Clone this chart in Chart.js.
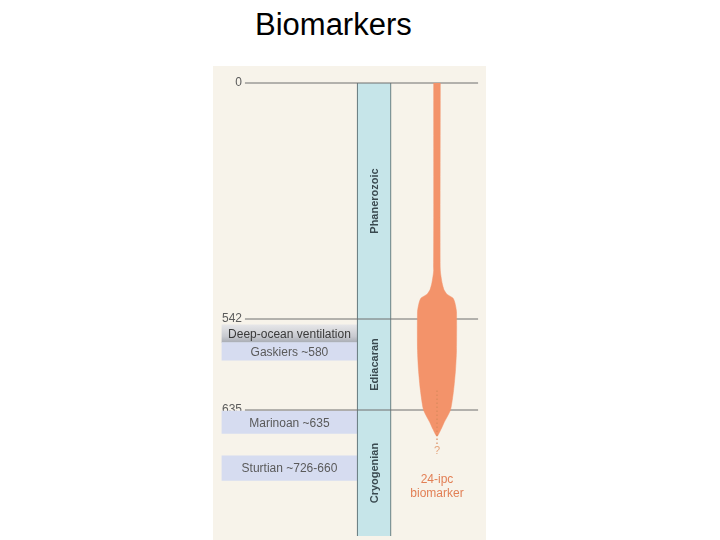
<!DOCTYPE html>
<html>
<head>
<meta charset="utf-8">
<script src="https://cdn.jsdelivr.net/npm/chart.js@4/dist/chart.umd.min.js"></script>
<style>
  html, body { margin: 0; padding: 0; background: #fff; }
  #wrap { position: relative; width: 720px; height: 540px; }
  #title { position: absolute; left: 255px; top: 9px; font: 31px/31px "Liberation Sans", Arial, sans-serif; color: #000; }
  canvas { position: absolute; left: 0; top: 0; }
</style>
</head>
<body>
<div id="wrap">
  <div id="title">Biomarkers</div>
  <canvas id="chart" width="720" height="540"></canvas>
</div>
<script>
// ages in Ma
const AGE_TICKS = [0, 542, 635];
const PERIODS = ['Phanerozoic', 'Ediacaran', 'Cryogenian'];
const PERIOD_START = [0, 542, 635];
const PERIOD_END = [542, 635, 764];
const EVENTS = ['Deep-ocean ventilation', 'Gaskiers ~580', 'Marinoan ~635', 'Sturtian ~726-660'];
const EVENT_TOP = [548, 566, 636, 682];
const EVENT_BOTTOM = [566, 584, 659, 707];
// 24-ipc biomarker abundance (relative width) against age
const BIOMARKER_AGE = [0, 430, 459, 475, 485, 494, 505, 525, 574, 594, 615, 635, 648, 655, 662];
const BIOMARKER_REL = [0.17, 0.17, 0.26, 0.36, 0.51, 0.82, 0.92, 1, 1, 0.95, 0.85, 0.69, 0.36, 0.2, 0];
const BIOMARKER_UNSURE = [615, 672];

const X_BOX = 28, X_COL = 59, X_BIO = 82.05, BIO_HALF = 7.14;
const X_LINE = [11.7, 97.1];
const ORANGE = '#f3936a';
const BOX_COLOR = '#d6dcf0';

// piecewise linear time axis (Phanerozoic is squeezed in the figure)
class BrokenScale extends Chart.LinearScale {
    static id = 'broken';
    static defaults = {};
    _segs() { return this.options.segments; }
    getPixelForValue(value) {
        if (value === null || value === undefined || isNaN(value)) return NaN;
        const segs = this._segs();
        const total = segs.reduce((s, g) => s + g.size, 0);
        let acc = 0;
        for (let i = 0; i < segs.length; i++) {
            const g = segs[i];
            if (value <= g.to || i === segs.length - 1) {
                const t = (value - g.from) / (g.to - g.from);
                return this.top + (acc + t * g.size) / total * this.height;
            }
            acc += g.size;
        }
    }
    getValueForPixel(pixel) {
        const segs = this._segs();
        const total = segs.reduce((s, g) => s + g.size, 0);
        const pos = (pixel - this.top) / this.height * total;
        let acc = 0;
        for (let i = 0; i < segs.length; i++) {
            const g = segs[i];
            if (pos <= acc + g.size || i === segs.length - 1) {
                return g.from + (pos - acc) / g.size * (g.to - g.from);
            }
            acc += g.size;
        }
    }
}
Chart.register(BrokenScale);

const bioLeft = BIOMARKER_AGE.map((a, i) => ({ x: X_BIO - BIOMARKER_REL[i] * BIO_HALF, y: a }));
const bioRight = BIOMARKER_AGE.map((a, i) => ({ x: X_BIO + BIOMARKER_REL[i] * BIO_HALF, y: a })).reverse().slice(1);
const bioShape = bioLeft.concat(bioRight);

const refLines = AGE_TICKS.map(a => ({
    type: 'line',
    data: [{ x: X_LINE[0], y: a }, { x: X_LINE[1], y: a }],
    borderColor: '#6e6e6e', borderWidth: 1, pointRadius: 0, order: 2
}));

const panelPlugin = {
    id: 'panel',
    beforeDraw(chart) {
        const { ctx, chartArea: a } = chart;
        ctx.save();
        ctx.fillStyle = '#f7f3ea';
        ctx.fillRect(a.left, a.top, a.right - a.left, a.bottom - a.top);
        ctx.restore();
    },
    afterDatasetsDraw(chart) {
        const { ctx, scales: { x, y } } = chart;
        ctx.save();
        ctx.textBaseline = 'middle';
        ctx.textAlign = 'center';
        // period names in the column
        ctx.fillStyle = '#3a4a50';
        ctx.font = 'bold 11px "Liberation Sans", Arial, sans-serif';
        PERIODS.forEach((p, i) => {
            const cy = (y.getPixelForValue(PERIOD_START[i]) + y.getPixelForValue(PERIOD_END[i])) / 2;
            ctx.save();
            ctx.translate(x.getPixelForValue(X_COL), cy);
            ctx.rotate(-Math.PI / 2);
            ctx.fillText(p, 0, 1);
            ctx.restore();
        });
        // event labels
        ctx.font = '12px "Liberation Sans", Arial, sans-serif';
        EVENTS.forEach((e, i) => {
            const cy = (y.getPixelForValue(EVENT_TOP[i]) + y.getPixelForValue(EVENT_BOTTOM[i])) / 2;
            ctx.fillStyle = i === 0 ? '#3a3a3a' : '#5a5a5a';
            ctx.fillText(e, x.getPixelForValue(X_BOX), cy + 1);
        });
        // biomarker labels
        const bx = x.getPixelForValue(X_BIO);
        ctx.fillStyle = '#e4a47c';
        ctx.font = '11px "Liberation Sans", Arial, sans-serif';
        ctx.fillText('?', bx, y.getPixelForValue(BIOMARKER_UNSURE[1]) + 5);
        ctx.fillStyle = '#e27f55';
        ctx.font = '12px "Liberation Sans", Arial, sans-serif';
        ctx.fillText('24-ipc', bx, 480);
        ctx.fillText('biomarker', bx, 494);
        ctx.restore();
    }
};

new Chart(document.getElementById('chart'), {
    type: 'bar',
    data: {
        datasets: [
            {
                type: 'line',
                data: [{ x: X_BIO, y: BIOMARKER_UNSURE[0] }, { x: X_BIO, y: BIOMARKER_UNSURE[1] }],
                borderColor: '#d98a5c', borderWidth: 1.2, borderDash: [1.5, 2.5],
                pointRadius: 0, order: 0
            },
            {
                type: 'line',
                data: bioShape,
                backgroundColor: ORANGE, borderColor: ORANGE, borderWidth: 0.5,
                fill: 'shape', tension: 0.2, pointRadius: 0, order: 1
            },
            ...refLines,
            {
                type: 'bar',
                data: PERIODS.map((p, i) => ({ x: X_COL, y: [PERIOD_START[i], PERIOD_END[i]] })),
                backgroundColor: '#c6e5e9', borderColor: '#4f5f63',
                borderWidth: { left: 1, right: 1, top: 0, bottom: 0 },
                borderSkipped: false, barThickness: 34, grouped: false, order: 3
            },
            {
                type: 'bar',
                data: EVENTS.map((e, i) => ({ x: X_BOX, y: [EVENT_TOP[i], EVENT_BOTTOM[i]] })),
                backgroundColor: c => {
                    if (c.type !== 'data' || c.dataIndex !== 0 || !c.chart.chartArea) return BOX_COLOR;
                    const ys = c.chart.scales.y;
                    const g = c.chart.ctx.createLinearGradient(0, ys.getPixelForValue(EVENT_TOP[0]), 0, ys.getPixelForValue(EVENT_BOTTOM[0]));
                    g.addColorStop(0, '#e6e6e8');
                    g.addColorStop(0.65, '#c8cad0');
                    g.addColorStop(1, '#a8acb4');
                    return g;
                },
                borderWidth: 0, barThickness: 135, grouped: false, order: 4
            }
        ]
    },
    options: {
        responsive: false,
        animation: false,
        events: [],
        layout: { padding: { left: 213, right: 234, top: 66, bottom: 0 } },
        plugins: { legend: { display: false }, tooltip: { enabled: false }, title: { display: false } },
        scales: {
            x: { type: 'linear', min: 0, max: 100, display: false, offset: false },
            y: {
                type: 'broken',
                min: -39, max: 764,
                segments: [
                    { from: -39, to: 0, size: 17 },
                    { from: 0, to: 542, size: 236 },
                    { from: 542, to: 635, size: 91 },
                    { from: 635, to: 768, size: 130 }
                ],
                grid: { display: false, drawTicks: false },
                border: { display: false },
                afterBuildTicks: s => { s.ticks = AGE_TICKS.map(v => ({ value: v })); },
                afterFit: s => { s.width = 0; s.paddingTop = 0; s.paddingBottom = 0; },
                ticks: {
                    mirror: true, crossAlign: 'far', padding: 9,
                    color: '#5b5b5b',
                    font: { family: '"Liberation Sans", Arial, sans-serif', size: 12 },
                    callback: v => String(v)
                }
            }
        }
    },
    plugins: [panelPlugin]
});
</script>
</body>
</html>
